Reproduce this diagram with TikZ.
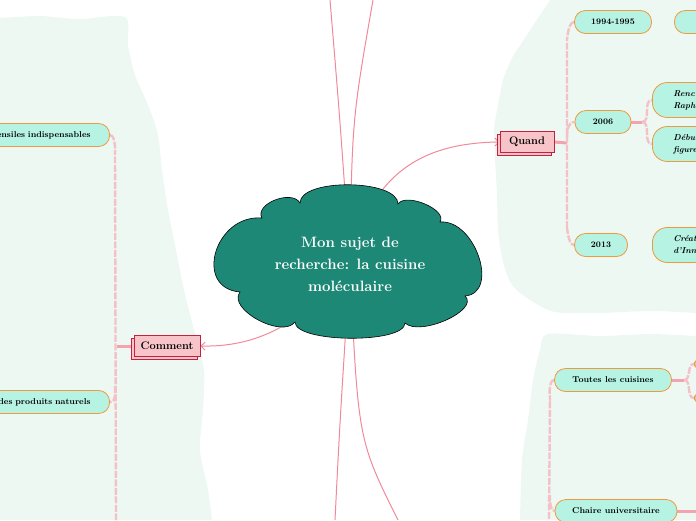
\documentclass[tikz,border=0pt]{standalone}
\usetikzlibrary{shadows,arrows.meta,backgrounds}
\definecolor{bgmint}{HTML}{EEF8F3}
\definecolor{cloudteal}{HTML}{1D8876}
\definecolor{linkpink}{HTML}{F0899A}
\definecolor{branchpink}{HTML}{F5C0C8}
\definecolor{stubpink}{HTML}{F3A2AF}
\definecolor{quandfill}{HTML}{F7C4C9}
\definecolor{quandborder}{HTML}{C4213E}
\definecolor{leaffill}{HTML}{B6F3E3}
\definecolor{leafborder}{HTML}{EF9A3C}

\begin{document}
\begin{tikzpicture}[x=1pt,y=-1pt,
    >={Straight Barb[length=4pt,width=8pt]},
    cloudline/.style={draw=black,line width=0.6pt,fill=cloudteal},
    topic/.style={text=white,align=center,
      font=\bfseries\fontsize{15}{22}\selectfont},
    mainbox/.style={draw=quandborder,fill=quandfill,line width=0.8pt,
      minimum height=21pt,inner xsep=5pt,
      font=\bfseries\fontsize{11}{13}\selectfont,
      copy shadow={shadow xshift=-3pt,shadow yshift=-3pt,
        draw=quandborder,fill=quandfill}},
    leaf/.style={draw=leafborder,fill=leaffill,line width=0.8pt,
      rounded corners=11pt,minimum height=23pt,
      font=\bfseries\fontsize{8.5}{10}\selectfont},
    tall/.style={leaf,rounded corners=15pt,minimum height=35pt,
      align=left,inner xsep=21pt,
      font=\bfseries\itshape\fontsize{8.5}{12}\selectfont},
    link/.style={draw=linkpink,line width=1pt},
    branch/.style={draw=branchpink,line width=2.4pt,dash pattern=on 7pt off 1.5pt},
    stub/.style={draw=stubpink,line width=3pt}
  ]
  \useasboundingbox (0,0) rectangle (696,520);
  \clip (0,0) rectangle (696,520);

  % central topic (cloud drawn by hand)
  \draw[cloudline] (240,292) .. controls (193,288) and (215,214) .. (262,218)
    .. controls (254,204) and (292,189) .. (300,203)
    .. controls (300,178) and (398,179) .. (398,204)
    .. controls (406,192) and (448,210) .. (440,222)
    .. controls (475,219) and (500,293) .. (465,296)
    .. controls (480,310) and (420,337) .. (405,323)
    .. controls (405,344) and (295,343) .. (295,322)
    .. controls (282,339) and (227,309) .. cycle;
  \node[topic] (topic) at (350,264)
    {Mon sujet de\\recherche: la cuisine\\mol\'eculaire};

  % main branches
  \node[mainbox,minimum width=54pt] (quand) at (527,142) {Quand};
  \node[mainbox,minimum width=66pt] (comment) at (167,346) {Comment};

  % Comment
  \node[leaf,anchor=east,text width=120pt,align=right,inner xsep=19pt]
    (ustens) at (110,135) {ensiles indispensables};
  \node[leaf,anchor=east,text width=120pt,align=right,inner xsep=19pt]
    (produits) at (110,402) {des produits naturels};

  % Quand
  \node[leaf,minimum width=77pt] (n1994) at (613,22) {1994-1995};
  \node[leaf,anchor=west,minimum width=60pt] (n1994b) at (674,22) {};
  \node[leaf,minimum width=56pt] (n2006) at (603,122) {2006};
  \node[tall,anchor=west,text width=60pt] (renc) at (652,100) {Renc\\Raph};
  \node[tall,anchor=west,text width=60pt] (debu) at (652,144) {D\'ebu\\figure};
  \node[leaf,minimum width=53pt] (n2013) at (601,245) {2013};
  \node[tall,anchor=west,text width=60pt] (creat) at (652,245) {Cr\'eati\\d'Inno};

  % lower right
  \node[leaf,minimum width=117pt] (toutes) at (613,380) {Toutes les cuisines};
  \node[leaf,anchor=west,minimum width=40pt,minimum height=18pt] (tc1) at (694,364) {};
  \node[leaf,anchor=west,minimum width=40pt,minimum height=18pt] (tc2) at (694,398) {};
  \node[leaf,minimum width=122pt] (chaire) at (616,511) {Chaire universitaire};

  % free ends and junctions
  \coordinate (up1) at (330,0);
  \coordinate (up2) at (373,0);
  \coordinate (down1) at (335,520);
  \coordinate (down2) at (398,520);
  \coordinate (cj) at (117,346);
  \coordinate (lbot) at (116,520);
  \coordinate (qj) at (567,143);
  \coordinate (sj) at (642,122);
  \coordinate (tj) at (684,380);
  \coordinate (rbot) at (549,520);
  \coordinate (cr) at (700,511);

  \begin{scope}[on background layer]
    % panels
    \fill[bgmint] (0,18) -- plot[smooth] coordinates {(0,18) (40,16) (80,19)
      (125,17) (128,45) (135,75) (148,105) (158,135) (162,170) (168,210)
      (176,250) (184,290) (194,330) (204,370) (203,410) (200,450) (208,490)
      (212,520)} -- (0,520) -- cycle;
    \fill[bgmint] (696,0) -- (550,0) -- plot[smooth] coordinates {(550,0)
      (538,18) (525,38) (512,58) (503,80) (498,105) (494,130) (495,160)
      (497,195) (498,230) (503,262) (512,285) (530,300) (555,312) (600,313)
      (650,311) (696,313)} -- cycle;
    \fill[bgmint] plot[smooth] coordinates {(696,336) (650,334) (600,336)
      (548,334) (540,350) (533,380) (528,420) (522,460) (520,520)}
      -- (696,520) -- cycle;

    % from the topic
    \draw[link] (topic.center) .. controls (340,120) .. (up1);
    \draw[link] (topic.center) .. controls (352,120) .. (up2);
    \draw[link] (topic.center) .. controls (340,420) .. (down1);
    \draw[link] (topic.center) .. controls (358,440) .. (down2);
    \draw[link,->] (topic.center) .. controls (370,175) and (420,143) .. (quand.west);
    \draw[link,->] (topic.center) .. controls (300,330) and (250,347) .. (comment.east);

    % Comment tree
    \draw[stub] (comment.west) -- (cj);
    \draw[branch] (ustens.east) to[out=0,in=-90] (115,150) -- (lbot);
    \draw[branch] (115,386) to[out=-90,in=0] (produits.east);

    % Quand tree
    \draw[stub] (quand.east) -- (qj);
    \draw[branch] (n1994.west) to[out=180,in=-90] (567,38) -- (567,229)
      to[out=90,in=180] (n2013.west);
    \draw[branch] (567,138) to[out=90,in=180] (n2006.west);
    \draw[stub] (n2006.east) -- (sj);
    \draw[branch] (sj) to[out=0,in=180] (renc.west);
    \draw[branch] (sj) to[out=0,in=180] (debu.west);

    % lower right tree
    \draw[branch] (toutes.west) to[out=180,in=-90] (550,396) -- (rbot);
    \draw[branch] (550,496) to[out=90,in=180] (chaire.west);
    \draw[stub] (toutes.east) -- (tj);
    \draw[branch] (tj) to[out=0,in=180] (tc1.west);
    \draw[branch] (tj) to[out=0,in=180] (tc2.west);
    \draw[stub] (chaire.east) -- (cr);
  \end{scope}
\end{tikzpicture}
\end{document}
